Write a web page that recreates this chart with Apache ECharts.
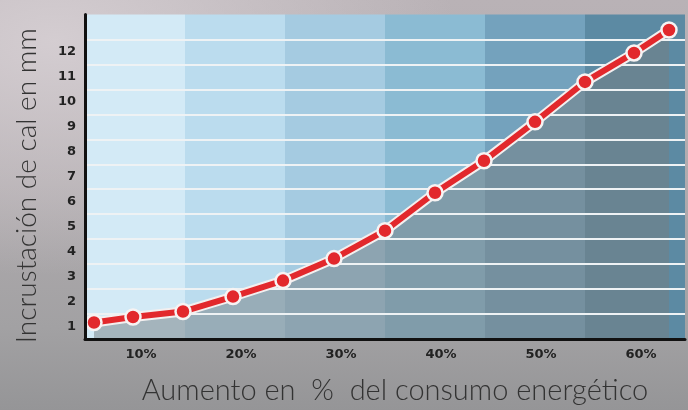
<!DOCTYPE html>
<html>
<head>
<meta charset="utf-8">
<script src="https://cdn.jsdelivr.net/npm/echarts@6/dist/echarts.min.js"></script>
<style>
html,body{margin:0;padding:0;}
#chart{width:688px;height:410px;
  background:
    radial-gradient(ellipse at 8% 10%, rgba(215,208,212,0.9) 0%, rgba(215,208,212,0) 45%),
    linear-gradient(180deg, #b9b2b6 0%, #b0abae 45%, #a2a1a3 80%, #959597 100%);}
</style>
</head>
<body>
<div id="chart"></div>
<script>
// consumo (%) y incrustación (mm)
var consumo = [5.9, 9.8, 14.8, 19.8, 24.8, 29.9, 35, 40, 44.9, 50, 55, 59.9, 63.4];
var incrustacion = [1.16, 1.38, 1.6, 2.2, 2.84, 3.72, 4.84, 6.36, 7.64, 9.2, 10.8, 11.96, 12.88];
var xLabels = ['10%', '20%', '30%', '40%', '50%', '60%'];
var yLabels = ['1', '2', '3', '4', '5', '6', '7', '8', '9', '10', '11', '12', ''];
var bandColors = ['#d3eaf6', '#bbdcee', '#a5cbe1', '#8bbbd3', '#74a2bd', '#5c8aa3'];

var points = consumo.map(function (c, i) { return [c, incrustacion[i]]; });

var chart = echarts.init(document.getElementById('chart'));
chart.setOption({
    animation: false,
    grid: {left: 85, right: 3, top: 14.5, bottom: 71, containLabel: false, outerBoundsMode: 'none'},
    xAxis: [{
        type: 'value', min: 5, max: 65, interval: 10, z: 0,
        axisLine: {show: false}, axisTick: {show: false}, axisLabel: {show: false},
        splitLine: {show: false},
        splitArea: {show: true, areaStyle: {color: bandColors, opacity: 1}}
    }, {
        type: 'category', data: xLabels, position: 'bottom', z: 6,
        axisLine: {show: true, lineStyle: {color: '#111', width: 3}},
        axisTick: {show: false},
        axisLabel: {color: '#222', fontFamily: 'DejaVu Sans', fontWeight: 'bold', fontSize: 13, margin: 9, padding: [0, 0, 0, 12]},
        name: 'Aumento en  %  del consumo energético',
        nameLocation: 'middle', nameGap: 37,
        nameTextStyle: {color: '#333', fontFamily: 'Lato', fontWeight: 300, fontSize: 29, padding: [0, 0, 0, 20]}
    }],
    yAxis: [{
        type: 'value', min: 0.5, max: 13.5, interval: 1, z: 2,
        axisLine: {show: false}, axisTick: {show: false}, axisLabel: {show: false},
        splitLine: {show: true, showMinLine: false, showMaxLine: false, lineStyle: {color: '#eef2f4', width: 2}}
    }, {
        type: 'category', data: yLabels, position: 'left', z: 6,
        axisLine: {show: true, lineStyle: {color: '#111', width: 3}},
        axisTick: {show: false},
        axisLabel: {color: '#222', fontFamily: 'DejaVu Sans', fontWeight: 'bold', fontSize: 13, margin: 9},
        name: 'Incrustación de cal en mm',
        nameLocation: 'middle', nameGap: 44, nameRotate: 90,
        nameTextStyle: {color: '#333', fontFamily: 'Lato', fontWeight: 300, fontSize: 28, padding: [0, 18, 0, 0]}
    }],
    series: [{
        type: 'line', data: points, z: 1, silent: true,
        showSymbol: false,
        lineStyle: {width: 0},
        areaStyle: {origin: 'start', color: 'rgba(118,126,131,0.72)'}
    }, {
        type: 'line', data: points, z: 3, silent: true,
        showSymbol: false,
        lineStyle: {width: 10, color: '#f3efef'}
    }, {
        type: 'line', data: points, z: 4,
        symbol: 'circle', symbolSize: 15,
        lineStyle: {width: 6, color: '#e2282c'},
        itemStyle: {color: '#e2282c', borderColor: '#f7f3f3', borderWidth: 2.5}
    }]
});
</script>
</body>
</html>
